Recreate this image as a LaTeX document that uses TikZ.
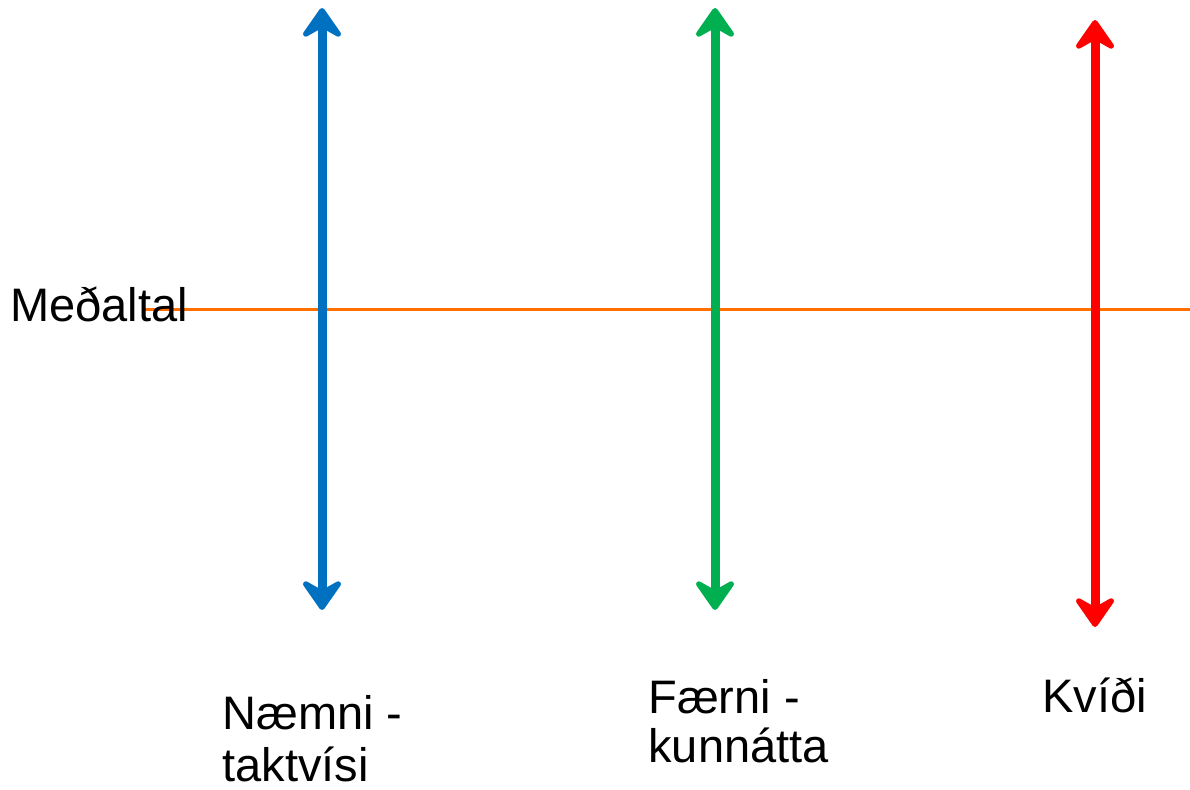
\documentclass[tikz,border=0pt]{standalone}
\usepackage{fontspec}
\setmainfont{Liberation Sans}
\usetikzlibrary{arrows.meta}
\definecolor{cblue}{RGB}{0,112,192}
\definecolor{cgreen}{RGB}{0,176,80}
\definecolor{cred}{RGB}{255,0,0}
\definecolor{corange}{RGB}{255,112,0}
\tikzset{
  tip/.tip={Stealth[length=18pt,width=25pt,inset=7pt,round]},
  dbl/.style={line width=4.5pt, tip-tip},
  lbl/.style={anchor=base west, inner sep=0pt, align=left, font=\fontsize{23.5}{26}\selectfont},
}
\begin{document}
\begin{tikzpicture}[x=0.5pt,y=-0.5pt]
\useasboundingbox (0,0) rectangle (1190,790);
\coordinate (ol) at (143,310);
\coordinate (or) at (1190,310);
\draw[corange, line width=1.5pt] (ol) -- (or);
\node[lbl] (med) at (10,322) {Meðaltal};
\coordinate (bt) at (322,8);
\coordinate (bb) at (322,610);
\coordinate (gt) at (715,8);
\coordinate (gb) at (715,610);
\coordinate (rt) at (1095,20);
\coordinate (rb) at (1095,627);
\draw[dbl, cblue] (bb) -- (bt);
\draw[dbl, cgreen] (gb) -- (gt);
\draw[dbl, cred] (rb) -- (rt);
\node[lbl] (nae) at (222,782) {Næmni -\\taktvísi};
\node[lbl, font=\fontsize{23.5}{24.5}\selectfont] (fae) at (648,763) {Færni -\\kunnátta};
\node[lbl] (kvi) at (1042,713) {Kvíði};
\end{tikzpicture}
\end{document}
